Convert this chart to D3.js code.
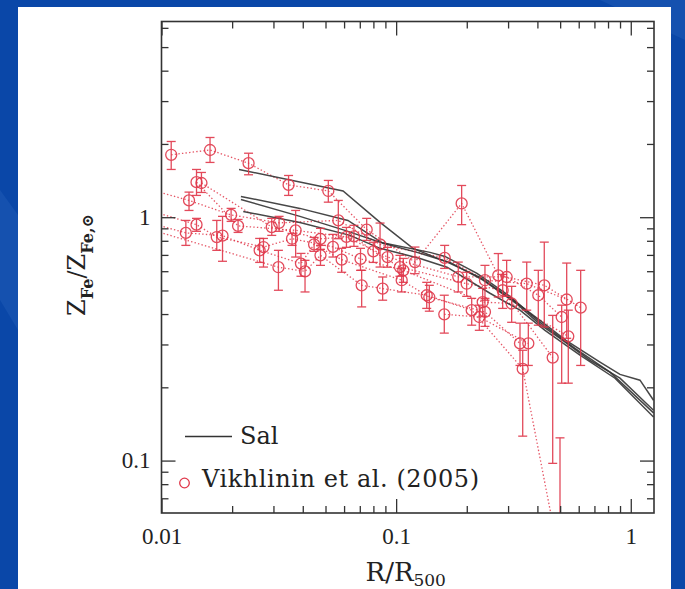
<!DOCTYPE html>
<html>
<head>
<meta charset="utf-8">
<script src="https://cdn.jsdelivr.net/npm/d3@7"></script>
<style>
  html, body { margin: 0; padding: 0; background: #0a47a8; }
  svg { display: block; }
</style>
</head>
<body>
<script>
/*
  Fe abundance profiles: Vikhlinin et al. (2005) vs simulations (Sal)
*/

// Vikhlinin et al. clusters: [R/R500, Z, lower, upper]
var cluster1 = [[0.011, 1.805, 1.571, 2.047], [0.0161, 1.889, 1.679, 2.126], [0.0235, 1.667, 1.494, 1.832],
  [0.0348, 1.357, 1.229, 1.484], [0.0514, 1.282, 1.153, 1.416], [0.0749, 0.889, 0.803, 0.989],
  [0.1203, 0.654, 0.586, 0.754], [0.1902, 1.139, 0.932, 1.350], [0.2724, 0.577, 0.470, 0.709],
  [0.4279, 0.525, 0.354, 0.790], [0.6116, 0.425, 0.246, 0.605]];
var cluster2 = [[0.0089, 1.30, 1.20, 1.40], [0.0131, 1.172, 1.066, 1.268], [0.0198, 1.022, 0.961, 1.087],
  [0.0317, 0.948, 0.875, 1.008], [0.0567, 0.970, 0.816, 1.172], [0.0854, 0.773, 0.624, 0.946],
  [0.161, 0.681, 0.616, 0.766], [0.2391, 0.551, 0.456, 0.634], [0.3602, 0.533, 0.415, 0.654],
  [0.5332, 0.459, 0.318, 0.648]];
var cluster3 = [[0.0141, 1.393, 1.229, 1.571], [0.0212, 0.921, 0.866, 0.979], [0.0373, 0.883, 0.686, 1.066],
  [0.0614, 0.830, 0.752, 0.908], [0.0919, 0.686, 0.623, 0.752], [0.184, 0.569, 0.493, 0.654],
  [0.2958, 0.568, 0.473, 0.665], [0.4035, 0.478, 0.360, 0.605], [0.5076, 0.389, 0.208, 0.435]];
var cluster4 = [[0.0148, 1.382, 1.264, 1.527], [0.0295, 0.911, 0.842, 0.989], [0.0476, 0.815, 0.738, 0.900],
  [0.0661, 0.834, 0.759, 0.926], [0.0799, 0.724, 0.652, 0.789], [0.1038, 0.624, 0.572, 0.697],
  [0.1998, 0.533, 0.473, 0.594], [0.2845, 0.501, 0.422, 0.582], [0.4648, 0.265, 0.0974, 0.395]];
var cluster5 = [[0.0089, 1.066, 1.0, 1.13], [0.0141, 0.932, 0.875, 0.989], [0.0172, 0.829, 0.731, 0.970],
  [0.0272, 0.754, 0.624, 0.818], [0.036, 0.816, 0.766, 0.858], [0.0538, 0.755, 0.686, 0.850],
  [0.0705, 0.674, 0.605, 0.745], [0.1073, 0.605, 0.540, 0.677], [0.2338, 0.448, 0.392, 0.510],
  [0.3107, 0.442, 0.370, 0.520], [0.5416, 0.324, 0.208, 0.415]];
var cluster6 = [[0.0089, 0.948, 0.89, 1.0], [0.0127, 0.862, 0.766, 0.970], [0.0182, 0.840, 0.659, 1.008],
  [0.0262, 0.731, 0.652, 0.818], [0.0393, 0.645, 0.572, 0.710], [0.0447, 0.773, 0.724, 0.826],
  [0.0586, 0.669, 0.594, 0.745], [0.1056, 0.551, 0.493, 0.617], [0.1385, 0.469, 0.411, 0.525],
  [0.2391, 0.408, 0.356, 0.464], [0.3372, 0.303, 0.246, 0.367]];
var cluster7 = [[0.0089, 0.891, 0.84, 0.95], [0.0315, 0.623, 0.501, 0.731], [0.0409, 0.599, 0.493, 0.665],
  [0.0476, 0.697, 0.634, 0.766], [0.0713, 0.525, 0.428, 0.605], [0.0876, 0.509, 0.456, 0.568],
  [0.135, 0.478, 0.422, 0.540], [0.2099, 0.415, 0.360, 0.464], [0.3463, 0.238, 0.126, 0.284],
  [0.4993, 0.0387, 0.005, 0.124]];
var cluster8 = [[0.1604, 0.399, 0.334, 0.478], [0.2262, 0.389, 0.343, 0.435], [0.3659, 0.303, 0.246, 0.367]];

// simulated profiles (Sal): [R/R500, Z]
var sal1 = [[0.0214, 1.571], [0.0594, 1.282], [0.0854, 0.952], [0.118, 0.745], [0.1696, 0.646], [0.2277, 0.566],
  [0.3148, 0.456], [0.4102, 0.377], [0.5295, 0.312], [0.7393, 0.254], [0.8995, 0.226], [1.0945, 0.214], [1.25, 0.177]];
var sal2 = [[0.0218, 1.217], [0.0389, 1.087], [0.0623, 0.970], [0.0879, 0.781], [0.1227, 0.717], [0.1696, 0.652],
  [0.2345, 0.551], [0.3242, 0.443], [0.4102, 0.363], [0.4993, 0.318], [0.6701, 0.258], [0.8995, 0.218], [1.25, 0.161]];
var sal3 = [[0.0218, 1.183], [0.0389, 1.008], [0.0605, 0.883], [0.0854, 0.789], [0.1394, 0.717], [0.1615, 0.690],
  [0.2211, 0.588], [0.3056, 0.473], [0.4102, 0.370], [0.5784, 0.289], [0.8155, 0.231], [1.25, 0.157]];
var sal4 = [[0.0223, 1.056], [0.0389, 0.952], [0.0636, 0.842], [0.0854, 0.745], [0.1264, 0.677], [0.1647, 0.623],
  [0.2512, 0.487], [0.3372, 0.415], [0.4309, 0.343], [0.6074, 0.271], [0.8565, 0.218], [1.25, 0.151]];

var xMajor = [0.01, 0.1, 1],
    xLabels = ["0.01", "0.1", "1"],
    xMinor = [0.02, 0.03, 0.04, 0.05, 0.06, 0.07, 0.08, 0.09, 0.2, 0.3, 0.4, 0.5, 0.6, 0.7, 0.8, 0.9];
var yMajor = [0.1, 1],
    yLabels = ["0.1", "1"],
    yMinor = [0.07, 0.08, 0.09, 0.2, 0.3, 0.4, 0.5, 0.6, 0.7, 0.8, 0.9, 2, 3, 4, 5, 6];

var clusters = [cluster1, cluster2, cluster3, cluster4, cluster5, cluster6, cluster7, cluster8];
var salLines = [sal1, sal2, sal3, sal4];

var width = 685, height = 589;
var margin = {top: 21.5, right: 31, bottom: 76, left: 161.5};
var red = "#e0374a", ink = "#333";

var x = d3.scaleLog().domain([0.01, 1.256]).range([margin.left, width - margin.right]);
var y = d3.scaleLog().domain([0.0609, 6.37]).range([height - margin.bottom, margin.top]);

var svg = d3.select("body").append("svg")
  .attr("width", width)
  .attr("height", height);

// slide background
svg.append("rect").attr("width", width).attr("height", height).attr("fill", "#0a47a8");
svg.append("path").attr("d", "M600,0 L685,0 L685,40 Z").attr("fill", "#1d58b4").attr("opacity", 0.6);
svg.append("path").attr("d", "M0,190 L18,215 L18,330 L0,300 Z").attr("fill", "#1d58b4").attr("opacity", 0.6);
svg.append("rect").attr("x", 18).attr("y", 7).attr("width", 653).attr("height", height - 7).attr("fill", "#fff");

svg.append("clipPath").attr("id", "plotclip")
  .append("rect")
    .attr("x", x.range()[0]).attr("y", y.range()[1])
    .attr("width", x.range()[1] - x.range()[0])
    .attr("height", y.range()[0] - y.range()[1]);

var plotArea = svg.append("g").attr("clip-path", "url(#plotclip)");

//Dotted lines joining each cluster's points
var line = d3.line()
  .x(function(d){ return x(d[0]); })
  .y(function(d){ return y(d[1]); });

plotArea.selectAll(".cluster")
  .data(clusters)
  .enter().append("path")
    .attr("class", "cluster")
    .attr("d", line)
    .style("fill", "none")
    .style("stroke", red)
    .style("stroke-width", "1.3px")
    .style("stroke-dasharray", "1.4,2.2")
    .style("opacity", 0.85);

//Simulated profiles
plotArea.selectAll(".sal")
  .data(salLines)
  .enter().append("path")
    .attr("class", "sal")
    .attr("d", line)
    .style("fill", "none")
    .style("stroke", ink)
    .style("stroke-width", "1.5px")
    .style("opacity", 0.9);

//Error bars and circles
var points = [];
clusters.forEach(function(c){ c.forEach(function(d){ points.push(d); }); });

var pt = plotArea.selectAll(".pt")
  .data(points)
  .enter().append("g")
    .attr("class", "pt")
    .style("stroke", red)
    .style("stroke-width", "1.3px")
    .style("fill", "none")
    .style("opacity", 0.9);

pt.append("line")
  .attr("x1", function(d){ return x(d[0]); })
  .attr("x2", function(d){ return x(d[0]); })
  .attr("y1", function(d){ return y(d[2]); })
  .attr("y2", function(d){ return y(d[3]); });
pt.append("line")
  .attr("x1", function(d){ return x(d[0]) - 4.5; })
  .attr("x2", function(d){ return x(d[0]) + 4.5; })
  .attr("y1", function(d){ return y(d[2]); })
  .attr("y2", function(d){ return y(d[2]); });
pt.append("line")
  .attr("x1", function(d){ return x(d[0]) - 4.5; })
  .attr("x2", function(d){ return x(d[0]) + 4.5; })
  .attr("y1", function(d){ return y(d[3]); })
  .attr("y2", function(d){ return y(d[3]); });
pt.append("circle")
  .attr("cx", function(d){ return x(d[0]); })
  .attr("cy", function(d){ return y(d[1]); })
  .attr("r", 5.5);

//Axes, ticks inward on all four sides
var y0 = y.range()[0], y1 = y.range()[1], x0 = x.range()[0], x1 = x.range()[1];

function styleAxis(g){
  g.select(".domain").remove();
  g.selectAll("line").style("stroke", ink).style("stroke-width", "1.3px");
  g.selectAll("text")
    .style("font-family", "'Liberation Serif', serif")
    .style("font-size", "23px")
    .style("fill", "#222");
}

svg.append("g").attr("transform", "translate(0," + y0 + ")")
  .call(d3.axisBottom(x).tickValues(xMajor).tickSize(-14).tickPadding(15)
    .tickFormat(function(d, i){ return xLabels[i]; }))
  .call(styleAxis);
svg.append("g").attr("transform", "translate(0," + y0 + ")")
  .call(d3.axisBottom(x).tickValues(xMinor).tickSize(-7).tickFormat(""))
  .call(styleAxis);
svg.append("g").attr("transform", "translate(0," + y1 + ")")
  .call(d3.axisTop(x).tickValues(xMajor).tickSize(-14).tickFormat(""))
  .call(styleAxis);
svg.append("g").attr("transform", "translate(0," + y1 + ")")
  .call(d3.axisTop(x).tickValues(xMinor).tickSize(-7).tickFormat(""))
  .call(styleAxis);

svg.append("g").attr("transform", "translate(" + x0 + ",0)")
  .call(d3.axisLeft(y).tickValues(yMajor).tickSize(-14).tickPadding(11)
    .tickFormat(function(d, i){ return yLabels[i]; }))
  .call(styleAxis);
svg.append("g").attr("transform", "translate(" + x0 + ",0)")
  .call(d3.axisLeft(y).tickValues(yMinor).tickSize(-7).tickFormat(""))
  .call(styleAxis);
svg.append("g").attr("transform", "translate(" + x1 + ",0)")
  .call(d3.axisRight(y).tickValues(yMajor).tickSize(-14).tickFormat(""))
  .call(styleAxis);
svg.append("g").attr("transform", "translate(" + x1 + ",0)")
  .call(d3.axisRight(y).tickValues(yMinor).tickSize(-7).tickFormat(""))
  .call(styleAxis);

//Frame
svg.append("rect")
  .attr("x", x0).attr("y", y1)
  .attr("width", x1 - x0).attr("height", y0 - y1)
  .style("fill", "none")
  .style("stroke", ink)
  .style("stroke-width", "1.6px");

//Label for X axis
var xt = svg.append("text")
  .attr("x", (x0 + x1) / 2 - 2)
  .attr("y", 581)
  .style("text-anchor", "middle")
  .style("font-family", "'DejaVu Serif', serif")
  .style("font-size", "26px")
  .style("fill", "#222");
xt.append("tspan").text("R/R");
xt.append("tspan").attr("dy", 5).style("font-size", "17px").text("500");

//Label for Y axis
var yt = svg.append("text")
  .attr("transform", "translate(85,265) rotate(-90)")
  .style("text-anchor", "middle")
  .style("font-family", "'DejaVu Serif', serif")
  .style("font-size", "24px")
  .style("fill", "#222");
yt.append("tspan").text("Z");
yt.append("tspan").attr("dy", 8).style("font-size", "16px").style("font-weight", "bold").text("Fe");
yt.append("tspan").attr("dy", -8).text("/Z");
yt.append("tspan").attr("dy", 8).style("font-size", "16px").style("font-weight", "bold").text("Fe,\u2299");

//Legend
var legend = svg.append("g")
  .style("font-family", "'DejaVu Serif', serif")
  .style("font-size", "24px")
  .style("fill", "#222");
legend.append("line")
  .attr("x1", 185).attr("x2", 232).attr("y1", 436.5).attr("y2", 436.5)
  .style("stroke", ink).style("stroke-width", "1.5px");
legend.append("text").attr("x", 240).attr("y", 444).text("Sal");
legend.append("circle")
  .attr("cx", 184.5).attr("cy", 483).attr("r", 4.8)
  .style("fill", "none").style("stroke", red).style("stroke-width", "1.3px");
legend.append("text").attr("x", 202).attr("y", 487)
  .attr("textLength", 277).attr("lengthAdjust", "spacing")
  .text("Vikhlinin et al. (2005)");
</script>
</body>
</html>
